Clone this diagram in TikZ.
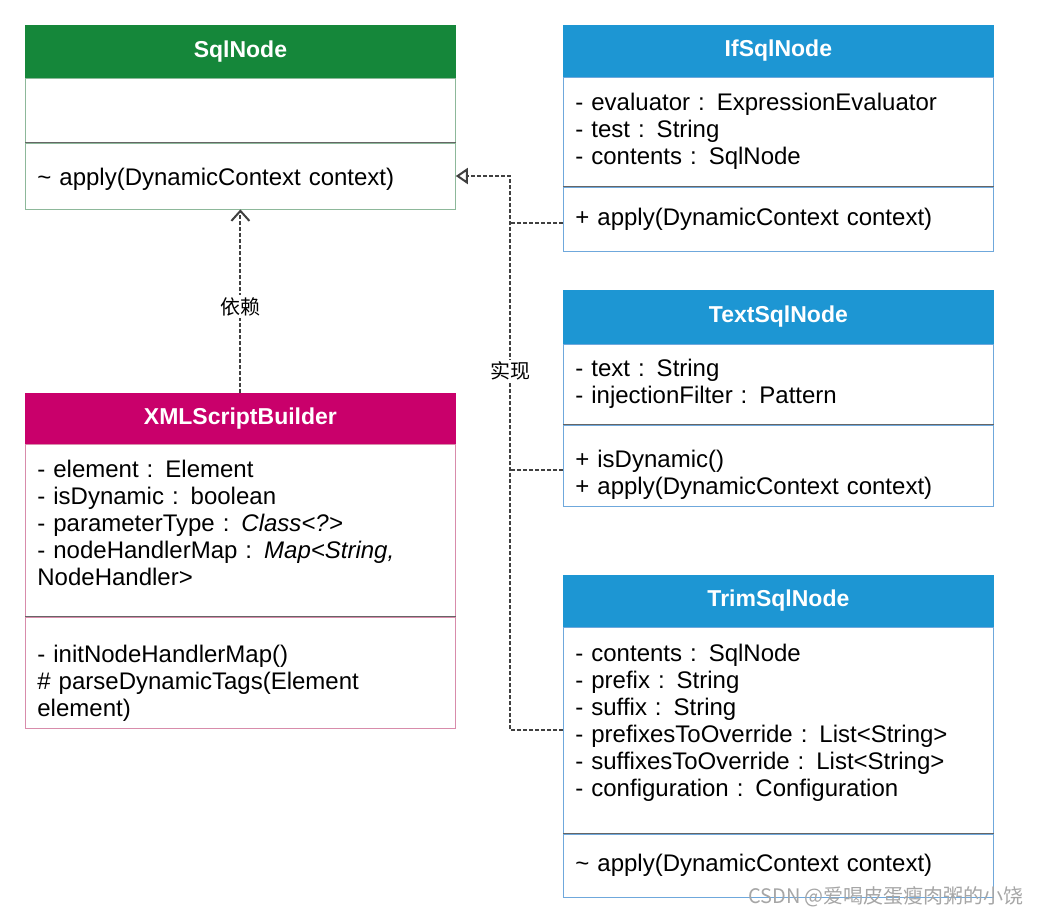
\documentclass[tikz,border=0pt]{standalone}
\usepackage{fontspec}
\setmainfont{Liberation Sans}
\newfontfamily\cjk{Noto Sans CJK SC}
\usetikzlibrary{positioning,arrows.meta}

\definecolor{sqlgreen}{HTML}{15873A}
\definecolor{ifblue}{HTML}{1D96D3}
\definecolor{xmlpink}{HTML}{C9006B}
\definecolor{greenline}{HTML}{8DB89A}
\definecolor{blueline}{HTML}{6FA8DC}
\definecolor{pinkline}{HTML}{D88CAB}
\definecolor{sepgray}{HTML}{666666}
\definecolor{linkgray}{HTML}{404040}

\newcommand{\headfont}{\bfseries\fontsize{11.5}{13.5}\selectfont}
\newcommand{\bodyfont}{\fontsize{12}{13.5}\selectfont}

\begin{document}
\begin{tikzpicture}[x=0.5pt,y=-0.5pt,node distance=0pt,
classhead/.style={rectangle, draw=#1, fill=#1, text=white, font=\headfont,
  minimum width=215pt, inner sep=0pt},
classpart/.style={rectangle, draw=#1, fill=white, font=\bodyfont, align=left,
  text width=203pt, inner xsep=6pt, inner ysep=0pt},
sepline/.style={draw=sepgray, line width=0.8pt},
depend/.style={draw=linkgray, line width=1pt, dash pattern=on 2pt off 1pt,
  -{Straight Barb[length=5pt,width=9pt]}},
realize/.style={draw=linkgray, line width=1pt, dash pattern=on 2pt off 1pt,
  -{Triangle[open,length=6pt,width=8pt,fill=white]}},
branch/.style={draw=linkgray, line width=1pt, dash pattern=on 2pt off 1pt},
linklabel/.style={fill=white, font=\cjk\fontsize{10}{12}\selectfont, inner sep=1pt},
wmark/.style={text=gray!70, font=\cjk\fontsize{10}{12}\selectfont, inner sep=0pt}]
    \useasboundingbox (0,0) rectangle (1037,917);

    % SqlNode
    \node [classhead=sqlgreen, minimum height=26pt, anchor=north west] (sqlhead) at (25,25) {SqlNode};
    \node [classpart=greenline, minimum height=32pt, below=of sqlhead] (sqlattr) {};
    \node [classpart=greenline, minimum height=33pt, below=of sqlattr] (sqlmeth) {\rule{0pt}{12pt}\textasciitilde{} apply(DynamicContext context)};
    \draw [sepline] (sqlattr.south west) -- (sqlattr.south east);

    % IfSqlNode
    \node [classhead=ifblue, minimum height=25.5pt, anchor=north west] (ifhead) at (563,25) {IfSqlNode};
    \node [classpart=blueline, minimum height=54.5pt, below=of ifhead] (ifattr) {- evaluator : ExpressionEvaluator\\- test : String\\- contents : SqlNode};
    \node [classpart=blueline, minimum height=32pt, below=of ifattr] (ifmeth) {+ apply(DynamicContext context)};
    \draw [sepline] (ifattr.south west) -- (ifattr.south east);

    % TextSqlNode
    \node [classhead=ifblue, minimum height=26.5pt, anchor=north west] (texthead) at (563,290) {TextSqlNode};
    \node [classpart=blueline, minimum height=40pt, below=of texthead] (textattr) {- text : String\\- injectionFilter : Pattern};
    \node [classpart=blueline, minimum height=40.5pt, below=of textattr] (textmeth) {\rule{0pt}{17.5pt}+ isDynamic()\\+ apply(DynamicContext context)};
    \draw [sepline] (textattr.south west) -- (textattr.south east);

    % TrimSqlNode
    \node [classhead=ifblue, minimum height=25.5pt, anchor=north west] (trimhead) at (563,575) {TrimSqlNode};
    \node [classpart=blueline, minimum height=103pt, below=of trimhead] (trimattr) {- contents : SqlNode\\- prefix : String\\- suffix : String\\- prefixesToOverride : List<String>\\- suffixesToOverride : List<String>\\- configuration : Configuration\rule[-10pt]{0pt}{1pt}};
    \node [classpart=blueline, minimum height=31.5pt, below=of trimattr] (trimmeth) {\textasciitilde{} apply(DynamicContext context)};
    \draw [sepline] (trimattr.south west) -- (trimattr.south east);

    % XMLScriptBuilder
    \node [classhead=xmlpink, minimum height=25pt, anchor=north west] (xmlhead) at (25,393) {XMLScriptBuilder};
    \node [classpart=pinkline, minimum height=86pt, below=of xmlhead] (xmlattr) {- element : Element\\- isDynamic : boolean\\- parameterType : \textit{Class<?>}\\- nodeHandlerMap : \textit{Map<String,}\\NodeHandler>\rule[-7.5pt]{0pt}{1pt}};
    \node [classpart=pinkline, minimum height=55.5pt, below=of xmlattr] (xmlmeth) {\rule{0pt}{19pt}- initNodeHandlerMap()\\\# parseDynamicTags(Element\\element)};
    \draw [sepline] (xmlattr.south west) -- (xmlattr.south east);

    % links
    \draw [depend] (xmlhead.north) -- node [linklabel, pos=0.47] {依赖} (sqlmeth.south);
    \draw [realize] (trimattr.west) -- ++(-53,0) |- (sqlmeth.east);
    \draw [branch] ([yshift=-2pt]ifmeth.west) -- ++(-53,0);
    \draw [branch] ([yshift=-2pt]textmeth.west) -- ++(-53,0);
    \node [linklabel] (impl) at (510,371) {实现};

    \node [wmark] (csdn) at (886,897) {CSDN @爱喝皮蛋瘦肉粥的小饶};
\end{tikzpicture}
\end{document}
